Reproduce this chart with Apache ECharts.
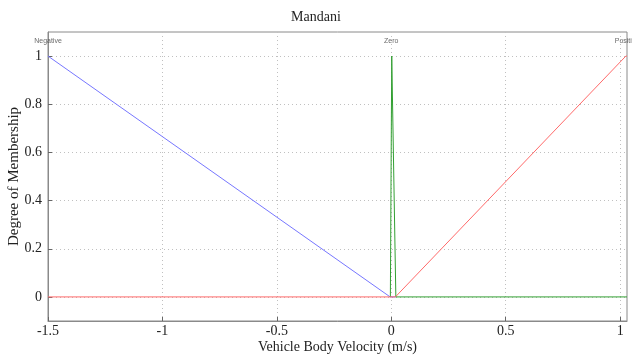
<!DOCTYPE html>
<html><head><meta charset="utf-8">
<script src="https://cdn.jsdelivr.net/npm/echarts@6/dist/echarts.min.js"></script>
<style>html,body{margin:0;padding:0;background:#fff}#c{width:632px;height:355px}</style>
</head><body><div id="c"></div>
<script>
const xTicks = [-1.5, -1, -0.5, 0, 0.5, 1];
const yTicks = [0, 0.2, 0.4, 0.6, 0.8, 1];
const negativeMF = [[-1.5, 1], [-0.005, 0], [0.02, 0]];
const zeroMF = [[-0.004, 0], [0.002, 1], [0.02, 0], [1.03, 0]];
const positiveMF = [[-1.5, 0], [0.018, 0], [1.025, 1], [1.03, 1]];
const mfNames = ['Negative', 'Zero', 'Positive'];
const mfNamePos = [-1.5, 0, 1.03];

const serif = '"Liberation Serif", "DejaVu Serif", serif';
const chart = echarts.init(document.getElementById('c'), null, {renderer: 'canvas'});
const lineSeries = (data, color) => ({
  type: 'line', data, symbol: 'none', animation: false,
  lineStyle: {color, width: 1}, clip: true
});
chart.setOption({
  backgroundColor: '#fff',
  animation: false,
  title: {text: 'Mandani', left: 'center', top: 5,
    textStyle: {fontFamily: serif, fontWeight: 'normal', fontSize: 14, color: '#222'}},
  grid: {left: 48, right: 5, top: 32, bottom: 34, show: true, borderColor: '#8a8a8a', borderWidth: 1,
    backgroundColor: '#fff', outerBoundsMode: 'none', containLabel: false},
  xAxis: {
    type: 'value', min: -1.5, max: 1.03,
    name: 'Vehicle Body Velocity (m/s)', nameLocation: 'middle', nameGap: 19, nameMoveOverlap: false,
    nameTextStyle: {fontFamily: serif, fontSize: 14, color: '#222'},
    axisLine: {show: true, onZero: false, lineStyle: {color: '#8a8a8a'}},
    axisTick: {show: true, inside: true, length: 4, customValues: xTicks, lineStyle: {color: '#666'}},
    axisLabel: {customValues: xTicks, fontFamily: serif, fontSize: 14, color: '#222', margin: 3,
      formatter: v => String(v)},
    splitLine: {show: true, lineStyle: {color: '#c0c0c0', type: [1, 3], width: 1}}
  },
  yAxis: {
    type: 'value', min: -0.1, max: 1.1,
    name: 'Degree of Membership', nameLocation: 'middle', nameGap: 26, nameMoveOverlap: false,
    nameTextStyle: {fontFamily: serif, fontSize: 15, color: '#222'},
    axisLine: {show: true, onZero: false, lineStyle: {color: '#8a8a8a'}},
    axisTick: {show: true, inside: true, length: 4, customValues: yTicks, lineStyle: {color: '#666'}},
    axisLabel: {customValues: yTicks, fontFamily: serif, fontSize: 14, color: '#222', margin: 6,
      formatter: v => String(v)},
    splitLine: {show: true, lineStyle: {color: '#c0c0c0', type: [1, 3], width: 1}}
  },
  series: [
    lineSeries(negativeMF, '#7777ff'),
    lineSeries(zeroMF, '#33a033'),
    lineSeries(positiveMF, '#ff6a6a'),
    {
      type: 'scatter', symbolSize: 0, clip: false, animation: false,
      data: mfNames.map((n, i) => [mfNamePos[i], 1.1, n]),
      label: {show: true, position: 'bottom', distance: 6, formatter: p => p.data[2],
        fontFamily: '"Liberation Sans", Arial, sans-serif', fontSize: 7, color: '#444'}
    }
  ]
});
</script></body></html>
